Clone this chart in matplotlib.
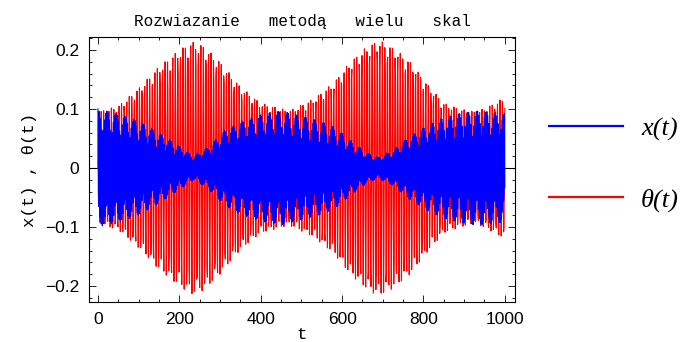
import numpy as np
import matplotlib.pyplot as plt
from matplotlib.ticker import MultipleLocator

# Envelope amplitudes (t, amplitude)
t_env_theta = [0, 50, 100, 150, 200, 230, 260, 300, 350, 400, 470, 530, 580,
               620, 660, 690, 730, 770, 810, 850, 890, 930, 970, 1000]
amp_theta = [0.095, 0.105, 0.135, 0.172, 0.200, 0.214, 0.207, 0.180, 0.138,
             0.110, 0.097, 0.117, 0.145, 0.180, 0.205, 0.217, 0.202, 0.178,
             0.142, 0.110, 0.100, 0.095, 0.108, 0.120]

t_env_x = [0, 50, 100, 150, 200, 235, 270, 310, 350, 400, 450, 500, 540, 580,
           620, 660, 690, 725, 765, 810, 850, 890, 930, 980, 1000]
amp_x = [0.100, 0.092, 0.080, 0.060, 0.037, 0.020, 0.035, 0.063, 0.078, 0.090,
         0.097, 0.088, 0.081, 0.070, 0.047, 0.026, 0.018, 0.030, 0.053, 0.073,
         0.086, 0.093, 0.097, 0.094, 0.092]

# carrier periods estimated from the spike spacing
period_theta = 6.283
period_x = 3.1416
t_step = 1.0
t_max = 1000

t = np.arange(0, t_max + t_step, t_step)
theta = np.interp(t, t_env_theta, amp_theta) * np.sin(2 * np.pi * t / period_theta)
x = np.interp(t, t_env_x, amp_x) * np.cos(2 * np.pi * t / period_x)

fig = plt.figure(figsize=(6.91, 3.42), dpi=100)
ax = fig.add_axes([0.1288, 0.117, 0.6165, 0.775])

ax.axhline(0, color='black', linewidth=0.8, zorder=0)
l_theta, = ax.plot(t, theta, color='red', linewidth=0.8)
l_x, = ax.plot(t, x, color='blue', linewidth=0.8)

ax.set_xlim(-22, 1025)
ax.set_ylim(-0.227, 0.222)

ax.xaxis.set_major_locator(MultipleLocator(200))
ax.xaxis.set_minor_locator(MultipleLocator(50))
ax.yaxis.set_minor_locator(MultipleLocator(0.02))
ax.set_yticks([-0.2, -0.1, 0, 0.1, 0.2])
ax.set_yticklabels(['\u22120.2', '\u22120.1', '0', '0.1', '0.2'])

ax.tick_params(which='both', direction='in', top=True, right=True, width=0.6)
ax.tick_params(which='major', length=5, pad=7)
ax.tick_params(which='minor', length=2.5)
for lab in ax.get_xticklabels() + ax.get_yticklabels():
    lab.set_fontfamily('Liberation Sans')
    lab.set_fontsize(12.5)
for sp in ax.spines.values():
    sp.set_linewidth(0.8)

mono = 'Liberation Mono'
ax.set_title('Rozwiazanie   metodą   wielu   skal', fontfamily=mono,
             fontsize=11.5, pad=8)
ax.set_ylabel('x(t) , θ(t)', fontfamily=mono, fontsize=12.5, labelpad=6)
ax.set_xlabel('t', fontfamily=mono, fontsize=12.5, labelpad=0)

leg = fig.legend(handles=[l_x, l_theta], labels=['x(t)', 'θ(t)'],
                 loc='center left', bbox_to_anchor=(0.794, 0.519),
                 frameon=False, borderpad=0, borderaxespad=0,
                 handlelength=2.8, handletextpad=0.7, labelspacing=1.8,
                 prop={'family': 'Liberation Serif', 'style': 'italic', 'size': 19})
for ln in leg.get_lines():
    ln.set_linewidth(1.6)

fig.savefig('out.png', dpi=100)
